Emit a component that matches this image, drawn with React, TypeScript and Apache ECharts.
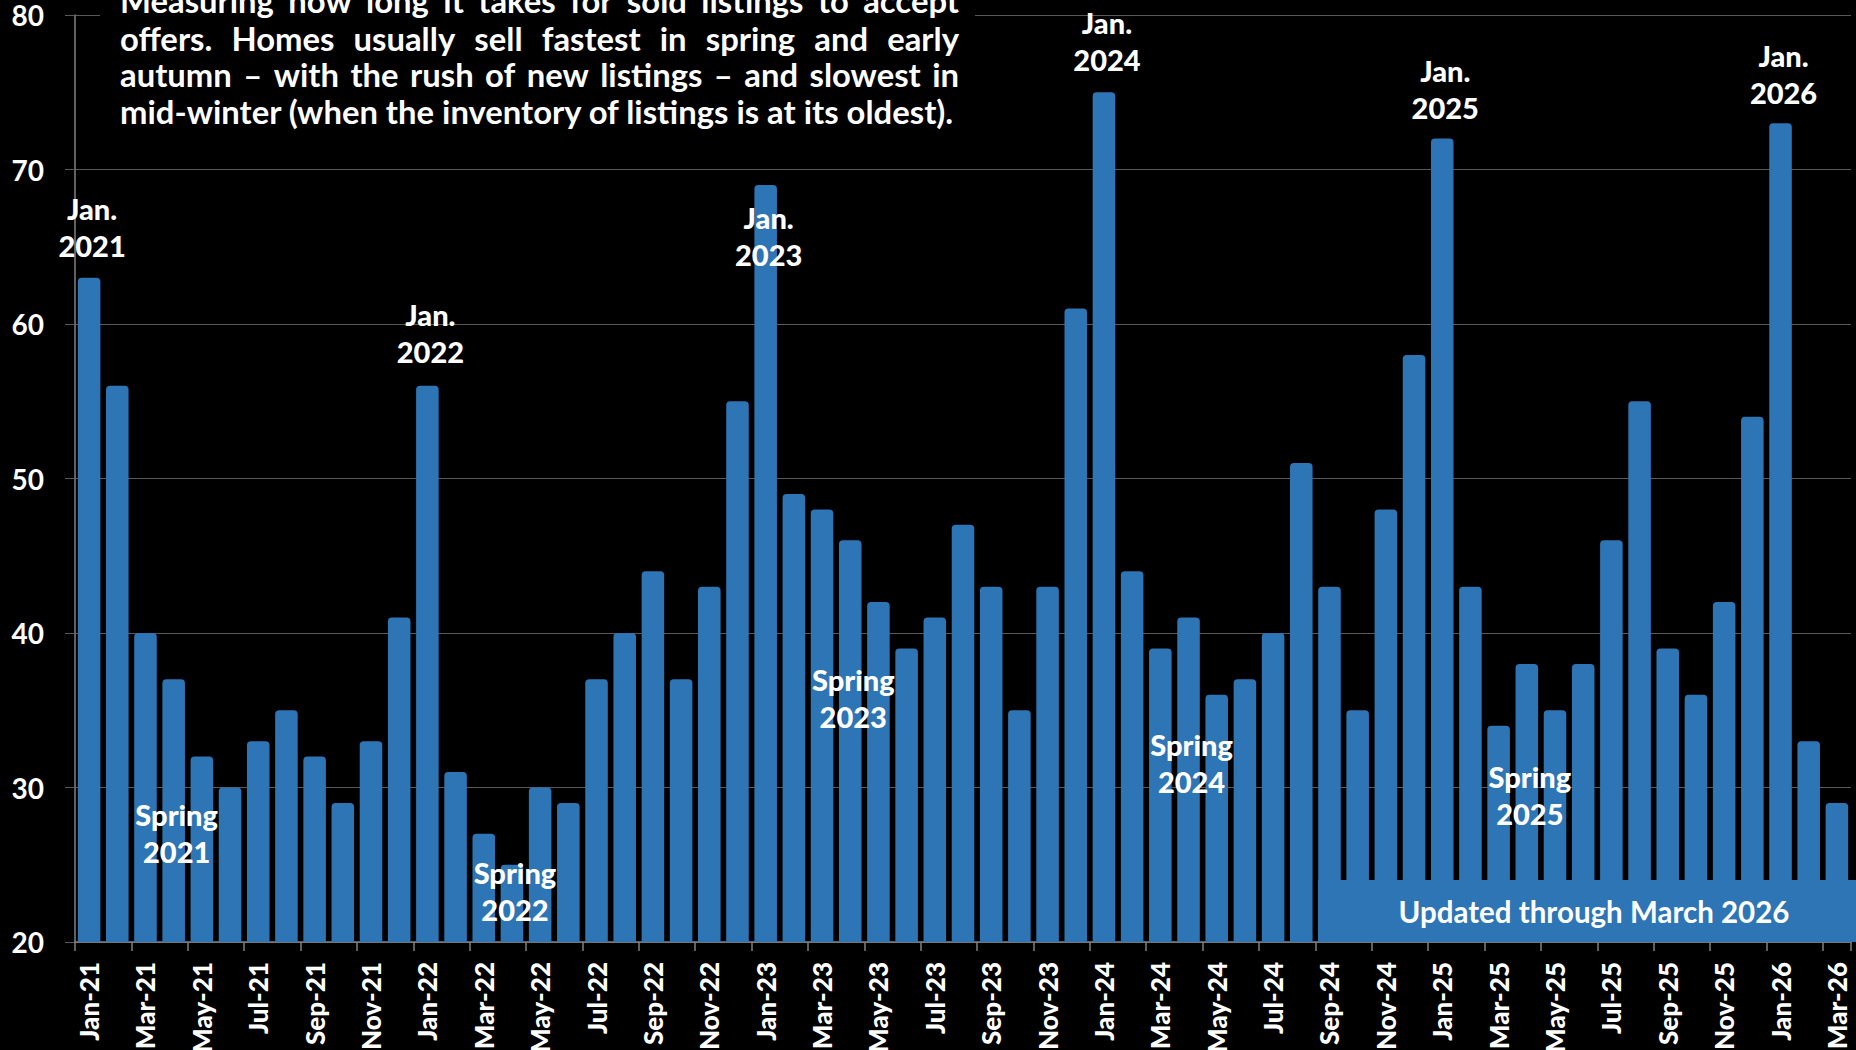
import React, { useEffect, useRef } from "react";
import * as echarts from "echarts";

const categories: string[] = [
  "Jan-21", "Feb-21", "Mar-21", "Apr-21", "May-21", "Jun-21", "Jul-21", "Aug-21", "Sep-21", "Oct-21", "Nov-21", "Dec-21",
  "Jan-22", "Feb-22", "Mar-22", "Apr-22", "May-22", "Jun-22", "Jul-22", "Aug-22", "Sep-22", "Oct-22", "Nov-22", "Dec-22",
  "Jan-23", "Feb-23", "Mar-23", "Apr-23", "May-23", "Jun-23", "Jul-23", "Aug-23", "Sep-23", "Oct-23", "Nov-23", "Dec-23",
  "Jan-24", "Feb-24", "Mar-24", "Apr-24", "May-24", "Jun-24", "Jul-24", "Aug-24", "Sep-24", "Oct-24", "Nov-24", "Dec-24",
  "Jan-25", "Feb-25", "Mar-25", "Apr-25", "May-25", "Jun-25", "Jul-25", "Aug-25", "Sep-25", "Oct-25", "Nov-25", "Dec-25",
  "Jan-26", "Feb-26", "Mar-26",
];

const daysToOffer: number[] = [
  63, 56, 40, 37, 32, 30, 33, 35, 32, 29, 33, 41,
  56, 31, 27, 25, 30, 29, 37, 40, 44, 37, 43, 55,
  69, 49, 48, 46, 42, 39, 41, 47, 43, 35, 43, 61,
  75, 44, 39, 41, 36, 37, 40, 51, 43, 35, 48, 58,
  72, 43, 34, 38, 35, 38, 46, 55, 39, 36, 42, 54,
  73, 33, 29,
];

const yTicks = { min: 20, max: 80, interval: 10 };

const janLabels = ["Jan.\n2021", "Jan.\n2022", "Jan.\n2023", "Jan.\n2024", "Jan.\n2025", "Jan.\n2026"];
const janCats = ["Jan-21", "Jan-22", "Jan-23", "Jan-24", "Jan-25", "Jan-26"];
const janY = [66.3, 59.4, 65.7, 78.3, 75.2, 76.2];

const springLabels = ["Spring\n2021", "Spring\n2022", "Spring\n2023", "Spring\n2024", "Spring\n2025"];
const springCats = ["Apr-21", "Apr-22", "Apr-23", "Apr-24", "Apr-25"];
const springY = [27.05, 23.3, 35.8, 31.6, 29.5];

const descLines = [
  "Measuring how long it takes for sold listings to accept",
  "offers. Homes usually sell fastest in spring and early",
  "autumn \u2013 with the rush of new listings \u2013 and slowest in",
  "mid-winter (when the inventory of listings is at its oldest).",
];

const updatedText = "Updated through March 2026";

const BLUE = "#2E75B6";
const FONT = "Lato";

function measure(text: string, fs: number): number {
  const c = document.createElement("canvas").getContext("2d");
  if (!c) return text.length * fs * 0.5;
  c.font = `bold ${fs}px ${FONT}`;
  return c.measureText(text).width;
}

function buildDescription(): any[] {
  const left = 120;
  const right = 959;
  const width = right - left;
  const lastNatural = 836;
  const fs = Math.round((28 * lastNatural) / measure(descLines[descLines.length - 1], 28) * 10) / 10;
  const yCenters = [0, 38.5, 74, 111];
  const els: any[] = [];
  descLines.forEach((line, i) => {
    const style = {
      fill: "#ffffff",
      font: `bold ${fs}px ${FONT}`,
      verticalAlign: "middle",
      align: "left",
    };
    if (i === descLines.length - 1) {
      els.push({ type: "text", x: left, y: yCenters[i], z: 11, style: { ...style, text: line } });
      return;
    }
    const words = line.split(" ");
    const widths = words.map((w) => measure(w, fs));
    const total = widths.reduce((a, b) => a + b, 0);
    const gap = (width - total) / (words.length - 1);
    let x = left;
    words.forEach((w, j) => {
      els.push({ type: "text", x, y: yCenters[i], z: 11, style: { ...style, text: w } });
      x += widths[j] + gap;
    });
  });
  return els;
}

export default function App() {
  const ref = useRef<HTMLDivElement>(null);

  useEffect(() => {
    if (!ref.current) return;
    const chart = echarts.init(ref.current, null, { renderer: "svg" });

    const annotationLabel = {
      show: true,
      position: "inside",
      formatter: "{b}",
      color: "#ffffff",
      opacity: 1,
      textBorderWidth: 0,
      fontFamily: FONT,
      fontWeight: 900,
      fontSize: 29,
      lineHeight: 37,
      offset: [3, 0],
    };

    const annotationSeriesBase = {
      type: "scatter",
      symbolSize: 1,
      itemStyle: { color: "rgba(0,0,0,0)", opacity: 1 },
      silent: true,
      z: 5,
      label: annotationLabel,
      emphasis: { disabled: true },
    };

    const option: any = {
      animation: false,
      backgroundColor: "#000000",
      textStyle: { fontFamily: FONT },
      grid: { left: 75, right: 5, top: 15, bottom: 108, containLabel: false, outerBoundsMode: "none" },
      xAxis: {
        type: "category",
        data: categories,
        boundaryGap: true,
        axisLine: { show: true, lineStyle: { color: "#808080", width: 1.5 } },
        axisTick: { show: true, interval: 1, length: 9, alignWithLabel: false, lineStyle: { color: "#808080", width: 1.5 } },
        axisLabel: {
          interval: 1,
          rotate: 90,
          margin: 20,
          color: "#ffffff",
          fontFamily: FONT,
          fontWeight: 900,
          fontSize: 26,
        },
        splitLine: { show: false },
      },
      yAxis: {
        type: "value",
        min: yTicks.min,
        max: yTicks.max,
        interval: yTicks.interval,
        axisLine: { show: true, lineStyle: { color: "#808080", width: 1.5 } },
        axisTick: { show: true, length: 10, lineStyle: { color: "#595959" } },
        axisLabel: {
          color: "#ffffff",
          fontFamily: FONT,
          fontWeight: "bold",
          fontSize: 28,
          margin: 31,
        },
        splitLine: { show: true, lineStyle: { color: "#595959", width: 1.2 } },
      },
      series: [
        {
          type: "bar",
          data: daysToOffer,
          barCategoryGap: "20%",
          itemStyle: { color: BLUE, borderRadius: [4, 4, 0, 0] },
          silent: true,
        },
        {
          ...annotationSeriesBase,
          data: janCats.map((c, i) => ({ value: [c, janY[i]], name: janLabels[i] })),
        },
        {
          ...annotationSeriesBase,
          data: springCats.map((c, i) => ({ value: [c, springY[i]], name: springLabels[i] })),
        },
      ],
      graphic: [
        { type: "rect", shape: { x: 100, y: 0, width: 875, height: 135 }, style: { fill: "#000000" }, z: 10 },
        ...buildDescription(),
        { type: "rect", shape: { x: 1318, y: 880, width: 538, height: 62 }, style: { fill: BLUE }, z: 10 },
        {
          type: "text",
          x: 1594,
          y: 911,
          z: 11,
          style: {
            text: updatedText,
            fill: "#ffffff",
            font: `bold 29.5px ${FONT}`,
            align: "center",
            verticalAlign: "middle",
          },
        },
      ],
    };

    chart.setOption(option);
    return () => chart.dispose();
  }, []);

  return (
    <div
      ref={ref}
      style={{ position: "fixed", left: 0, top: 0, width: 1856, height: 1050, background: "#000" }}
    />
  );
}
